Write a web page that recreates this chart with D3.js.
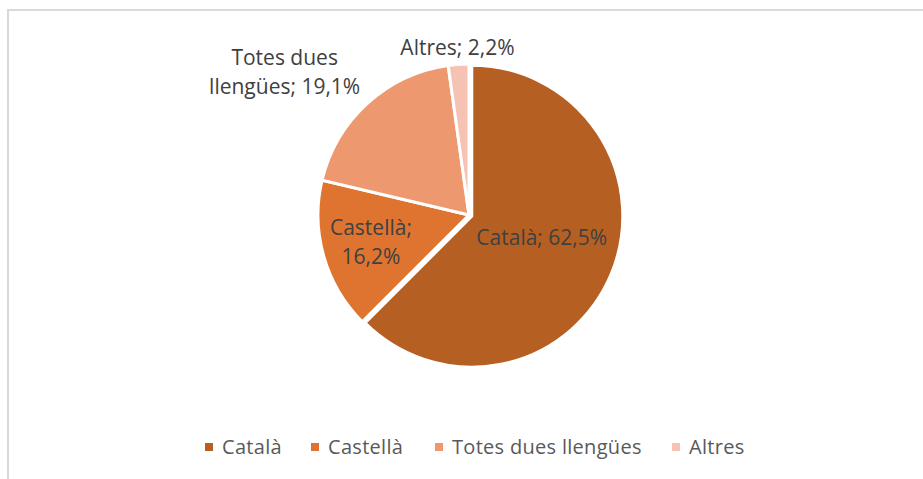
<!DOCTYPE html>
<html>
<head>
<meta charset="utf-8">
<script src="https://d3js.org/d3.v7.min.js"></script>
<style>
  body { margin: 0; background: #fff; }
  svg text { font-family: "Open Sans", "Liberation Sans", sans-serif; }
</style>
</head>
<body>
<svg id="chart" width="923" height="479"></svg>
<script>
// data
var categories = ["Català", "Castellà", "Totes dues llengües", "Altres"];
var values = [62.5, 16.2, 19.1, 2.2];
var colors = ["#b65f22", "#de7430", "#ee9870", "#f5c2b3"];

// layout
var cx = 469, cy = 215, radius = 151;
var legendX = [205, 311, 435, 672], legendY = 447;

var svg = d3.select("#chart");

// chart frame
svg.append("path")
  .attr("d", "M8,480 V10 H923")
  .attr("fill", "none")
  .attr("stroke", "#d9d9d9")
  .attr("stroke-width", 2);

var pie = d3.pie().sort(null).value(function(d) { return d; });
var arcs = pie(values);
var arc = d3.arc().innerRadius(0).outerRadius(radius);

var g = svg.append("g").attr("transform", "translate(" + cx + "," + cy + ")");

g.selectAll("path.slice")
  .data(arcs)
  .enter().append("path")
  .attr("class", "slice")
  .attr("d", arc)
  .attr("fill", function(d, i) { return colors[i]; })
  .attr("stroke", "#fff")
  .attr("stroke-width", 3)
  .attr("transform", function(d, i) {
    if (i !== 0) return null;
    // Català slightly pulled out
    var a = (d.startAngle + d.endAngle) / 2;
    return "translate(" + (Math.sin(a) * 3) + "," + (-Math.cos(a) * 3) + ")";
  });

// data labels
var fmt = function(v) { return v.toFixed(1).replace(".", ",") + "%"; };
var labelRadius = [0.5, 0.675, 1.45, 1.106];
var labelNudge = [[3, -6], [0, 0], [-37, 19], [0, 0]];
var labelLines = arcs.map(function(d, i) {
  var name = categories[i], pct = fmt(values[i]);
  if (i === 0) return [name + "; " + pct];
  if (i === 1) return [name + ";", pct];
  if (i === 2) return ["Totes dues", "llengües; " + pct];
  return [name + "; " + pct];
});

arcs.forEach(function(d, i) {
  var a = (d.startAngle + d.endAngle) / 2;
  var r = radius * labelRadius[i];
  var x = Math.sin(a) * r + labelNudge[i][0];
  var y = -Math.cos(a) * r + labelNudge[i][1];
  var lines = labelLines[i];
  var t = g.append("text")
    .attr("text-anchor", "middle")
    .attr("font-size", 21)
    .attr("fill", "#404040");
  lines.forEach(function(s, k) {
    t.append("tspan")
      .attr("x", x)
      .attr("y", y + (k - (lines.length - 1) / 2) * 29 + 7)
      .text(s);
  });
});

// legend
var leg = svg.selectAll("g.leg")
  .data(categories)
  .enter().append("g")
  .attr("class", "leg")
  .attr("transform", function(d, i) { return "translate(" + legendX[i] + "," + legendY + ")"; });

leg.append("rect")
  .attr("x", 0).attr("y", -4)
  .attr("width", 8).attr("height", 8)
  .attr("fill", function(d, i) { return colors[i]; });

leg.append("text")
  .attr("x", 17).attr("y", 7)
  .attr("font-size", 20)
  .attr("letter-spacing", 0.3)
  .attr("fill", "#595959")
  .text(function(d) { return d; });
</script>
</body>
</html>
